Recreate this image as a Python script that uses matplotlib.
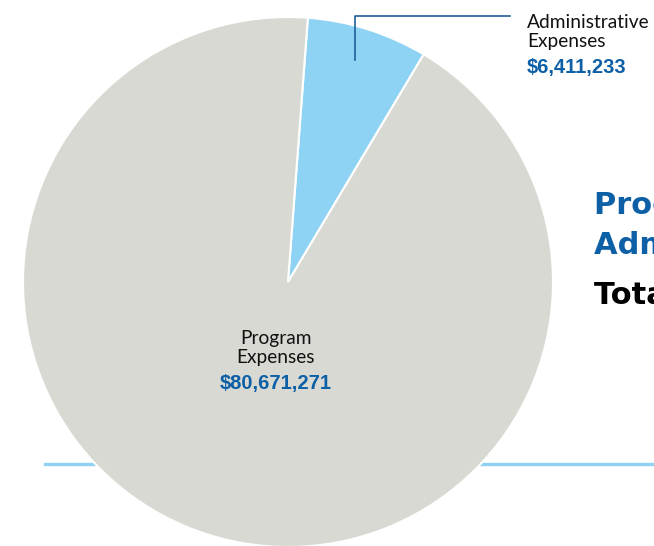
import matplotlib.pyplot as plt

# expense breakdown
LABELS = ['Administrative\nExpenses', 'Program\nExpenses']
VALUES = [6411233, 80671271]
COLORS = ['#8fd3f4', '#d9d9d4']
SIDE_TEXT = ['Program Expenses', 'Administrative Expenses', 'Total Expenses']

BLUE = '#0d5fa6'
plt.rcParams['font.family'] = ['Lato', 'DejaVu Sans']

fig = plt.figure(figsize=(6.54, 5.46), dpi=100)
ax = fig.add_axes([0, 0, 1, 1])

# light rule behind the pie
ax.plot([45, 654], [82, 82], color='#8fd3f4', linewidth=2.4, zorder=1)

ax.pie(VALUES, colors=COLORS, startangle=85.7, counterclock=False,
       center=(288, 264), radius=265, frame=True,
       wedgeprops=dict(edgecolor='white', linewidth=1.5, zorder=2))
ax.set_xlim(0, 654)
ax.set_ylim(0, 546)
ax.axis('off')

# leader for the small slice
ax.plot([355, 355, 510], [486, 530, 530], color='#1f5f9a', linewidth=1.2, zorder=3)

ax.text(527, 514, LABELS[0], fontsize=13.8, color='#111111', ha='left',
        va='center', linespacing=1.08, zorder=4)
ax.text(527, 479, '${:,}'.format(VALUES[0]), fontsize=14.5, color=BLUE,
        fontweight='bold', family='Liberation Sans', ha='left', va='center', zorder=4)

ax.text(276, 198, LABELS[1], fontsize=13.8, color='#111111', ha='center',
        va='center', linespacing=1.08, zorder=4)
ax.text(276, 163, '${:,}'.format(VALUES[1]), fontsize=14.5, color=BLUE,
        fontweight='bold', family='Liberation Sans', ha='center', va='center', zorder=4)

# side summary, runs off the right edge as in the source
for txt, y, c in zip(SIDE_TEXT, [341, 301, 251], [BLUE, BLUE, '#000000']):
    ax.text(594, y, txt, fontsize=22, color=c, fontweight='bold',
            family='DejaVu Sans', ha='left', va='center', zorder=4)

fig.savefig('out.png', dpi=100)
